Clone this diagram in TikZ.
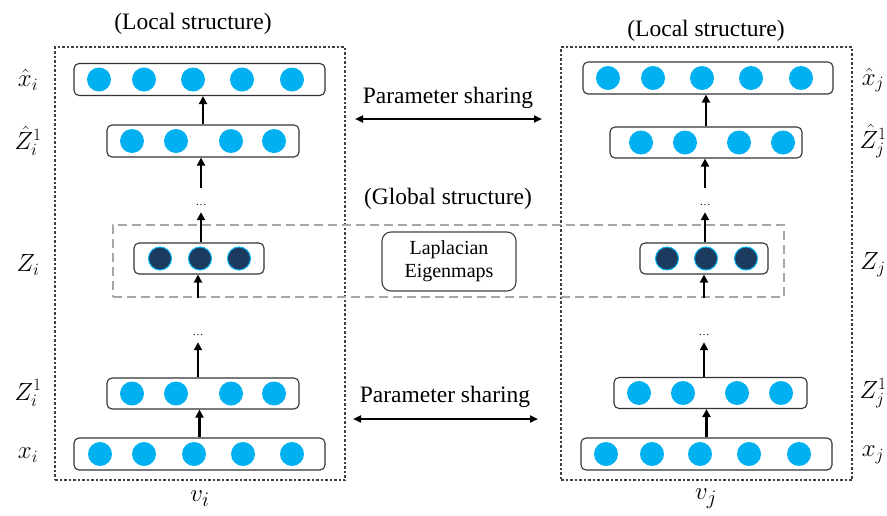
\documentclass[tikz,border=0pt]{standalone}
\usepackage{fontspec}
\setmainfont{Liberation Serif}
\usepackage{tikz}
\usetikzlibrary{positioning, arrows.meta}
\definecolor{cyanball}{HTML}{00B0F0}
\definecolor{navyball}{HTML}{1C3A5E}

\begin{document}
\begin{tikzpicture}[
   x=1pt, y=-1pt,
   layer/.style={draw=black!80, line width=1.1pt, rounded corners=5pt,
         minimum height=32pt, inner sep=0pt},
   ball/.style={circle, fill=cyanball, minimum size=24pt, inner sep=0pt},
   darkball/.style={circle, fill=navyball, draw=cyanball, line width=1pt,
         minimum size=23pt, inner sep=0pt},
   localframe/.style={draw=black!75, dash pattern=on 2.5pt off 2pt,
         line width=1.1pt, inner sep=0pt},
   globalframe/.style={draw=black!35, dash pattern=on 9pt off 5pt,
         line width=1.6pt, inner sep=0pt},
   arr/.style={-{Triangle[length=8pt, width=8pt]}, line width=2.6pt},
   shared/.style={{Triangle[length=8pt, width=7pt]}-{Triangle[length=8pt, width=7pt]},
         line width=2pt},
   lab/.style={font=\fontsize{24}{28}\selectfont},
   title/.style={font=\fontsize{23.5}{28}\selectfont},
   vdots/.style={font=\fontsize{11}{12}\selectfont, inner sep=0pt,
         text height=2pt, text depth=0pt, minimum height=16pt},
  ]
  \useasboundingbox (0,0) rectangle (887,515);

  % frames
  \node[localframe, minimum width=290pt, minimum height=433pt] (loci) at (200,263.5) {};
  \node[localframe, minimum width=291pt, minimum height=433pt] (locj) at (706.5,263.5) {};
  \node[globalframe, minimum width=671pt, minimum height=72pt] (glob) at (448.5,261) {};

  % left encoder/decoder
  \node[layer, minimum width=251pt] (xhi) at (199.5,79.5) {};
  \node[layer, minimum width=192pt] (zhi) at (203,141) {};
  \node[vdots] (dotsa) at (201,204) {\dots};
  \node[layer, minimum width=130pt, minimum height=31pt] (zi) at (199,258.5) {};
  \node[vdots] (dotsb) at (198,334) {\dots};
  \node[layer, minimum width=192pt, minimum height=31pt] (zoi) at (203,393.5) {};
  \node[layer, minimum width=251pt] (xi) at (199.5,454) {};

  % right encoder/decoder
  \node[layer, minimum width=250pt] (xhj) at (708,78) {};
  \node[layer, minimum width=192pt, minimum height=31pt] (zhj) at (706,142.5) {};
  \node[vdots] (dotsc) at (705,204) {\dots};
  \node[layer, minimum width=128pt, minimum height=31pt] (zj) at (704,258.5) {};
  \node[vdots] (dotsd) at (704,334) {\dots};
  \node[layer, minimum width=193pt, minimum height=31pt] (zoj) at (710.5,393) {};
  \node[layer, minimum width=251pt] (xj) at (706.5,454) {};

  % units
  \foreach \u [count=\k] in {99,144,193,242,292}
    \node[ball] (xhi-\k) at (\u,79.5) {};
  \foreach \u [count=\k] in {132,176,231,274}
    \node[ball] (zhi-\k) at (\u,141) {};
  \foreach \u [count=\k] in {160,200,239}
    \node[darkball] (zi-\k) at (\u,258.5) {};
  \foreach \u [count=\k] in {132,176,231,274}
    \node[ball] (zoi-\k) at (\u,393.5) {};
  \foreach \u [count=\k] in {100,144,194,243,292}
    \node[ball] (xi-\k) at (\u,454) {};

  \foreach \u [count=\k] in {608,653,702,751,801}
    \node[ball] (xhj-\k) at (\u,78) {};
  \foreach \u [count=\k] in {641,685,739,783}
    \node[ball] (zhj-\k) at (\u,142.5) {};
  \foreach \u [count=\k] in {667,706,746}
    \node[darkball] (zj-\k) at (\u,258.5) {};
  \foreach \u [count=\k] in {639,683,737,781}
    \node[ball] (zoj-\k) at (\u,393) {};
  \foreach \u [count=\k] in {606,652,700,749,799}
    \node[ball] (xj-\k) at (\u,454) {};

  % arrows
  \draw[arr] (xi.north) -- (xi.north |- zoi.south);
  \draw[arr] (zoi.north -| dotsb) -- (dotsb.south);
  \draw[arr] (dotsb |- glob.south) -- (dotsb |- zi.south);
  \draw[arr] (zi.north -| dotsa) -- (dotsa.south);
  \draw[arr] ([yshift=8pt]dotsa.north) -- (dotsa |- zhi.south);
  \draw[arr] (zhi.north) -- (zhi.north |- xhi.south);

  \draw[arr] (xj.north) -- (xj.north |- zoj.south);
  \draw[arr] (zoj.north -| dotsd) -- (dotsd.south);
  \draw[arr] (dotsd |- glob.south) -- (dotsd |- zj.south);
  \draw[arr] (zj.north -| dotsc) -- (dotsc.south);
  \draw[arr] ([yshift=8pt]dotsc.north) -- (dotsc |- zhj.south);
  \draw[arr] (zhj.north) -- (zhj.north |- xhj.south);

  % shared weights
  \node[title] (sharetop) at (448,98) {Parameter sharing};
  \coordinate (shta) at (355,119);
  \coordinate (shtb) at (542,119);
  \draw[shared] (shta) -- (shtb);
  \node[title] (sharebot) at (445,397) {Parameter sharing};
  \coordinate (shba) at (353,419);
  \coordinate (shbb) at (538,419);
  \draw[shared] (shba) -- (shbb);

  \node[draw=black!75, line width=1.1pt, rounded corners=9pt, align=center,
        minimum width=134pt, minimum height=59pt, inner sep=0pt,
        font=\fontsize{20}{23}\selectfont] (lap) at (449,261.5) {Laplacian\\Eigenmaps};

  \node[title] (loctitlei) at (193,24) {(Local structure)};
  \node[title] (loctitlej) at (706,31) {(Local structure)};
  \node[title] (globtitle) at (448,199) {(Global structure)};

  % labels
  \node[lab] (lxhi) at (28,80) {$\hat{x}_i$};
  \node[lab] (lzhi) at (28,141) {$\hat{Z}_i^1$};
  \node[lab] (lzi) at (28,265) {$Z_i$};
  \node[lab] (lzoi) at (28,393) {$Z_i^1$};
  \node[lab] (lxi) at (28,455) {$x_i$};
  \node[lab] (lxhj) at (873,80) {$\hat{x}_j$};
  \node[lab] (lzhj) at (873,141) {$\hat{Z}_j^1$};
  \node[lab] (lzj) at (873,265) {$Z_j$};
  \node[lab] (lzoj) at (873,393) {$Z_j^1$};
  \node[lab] (lxj) at (873,455) {$x_j$};
  \node[lab, font=\fontsize{28}{30}\selectfont] (vi) at (200,499) {$v_i$};
  \node[lab, font=\fontsize{28}{30}\selectfont] (vj) at (706,499) {$v_j$};
\end{tikzpicture}
\end{document}
